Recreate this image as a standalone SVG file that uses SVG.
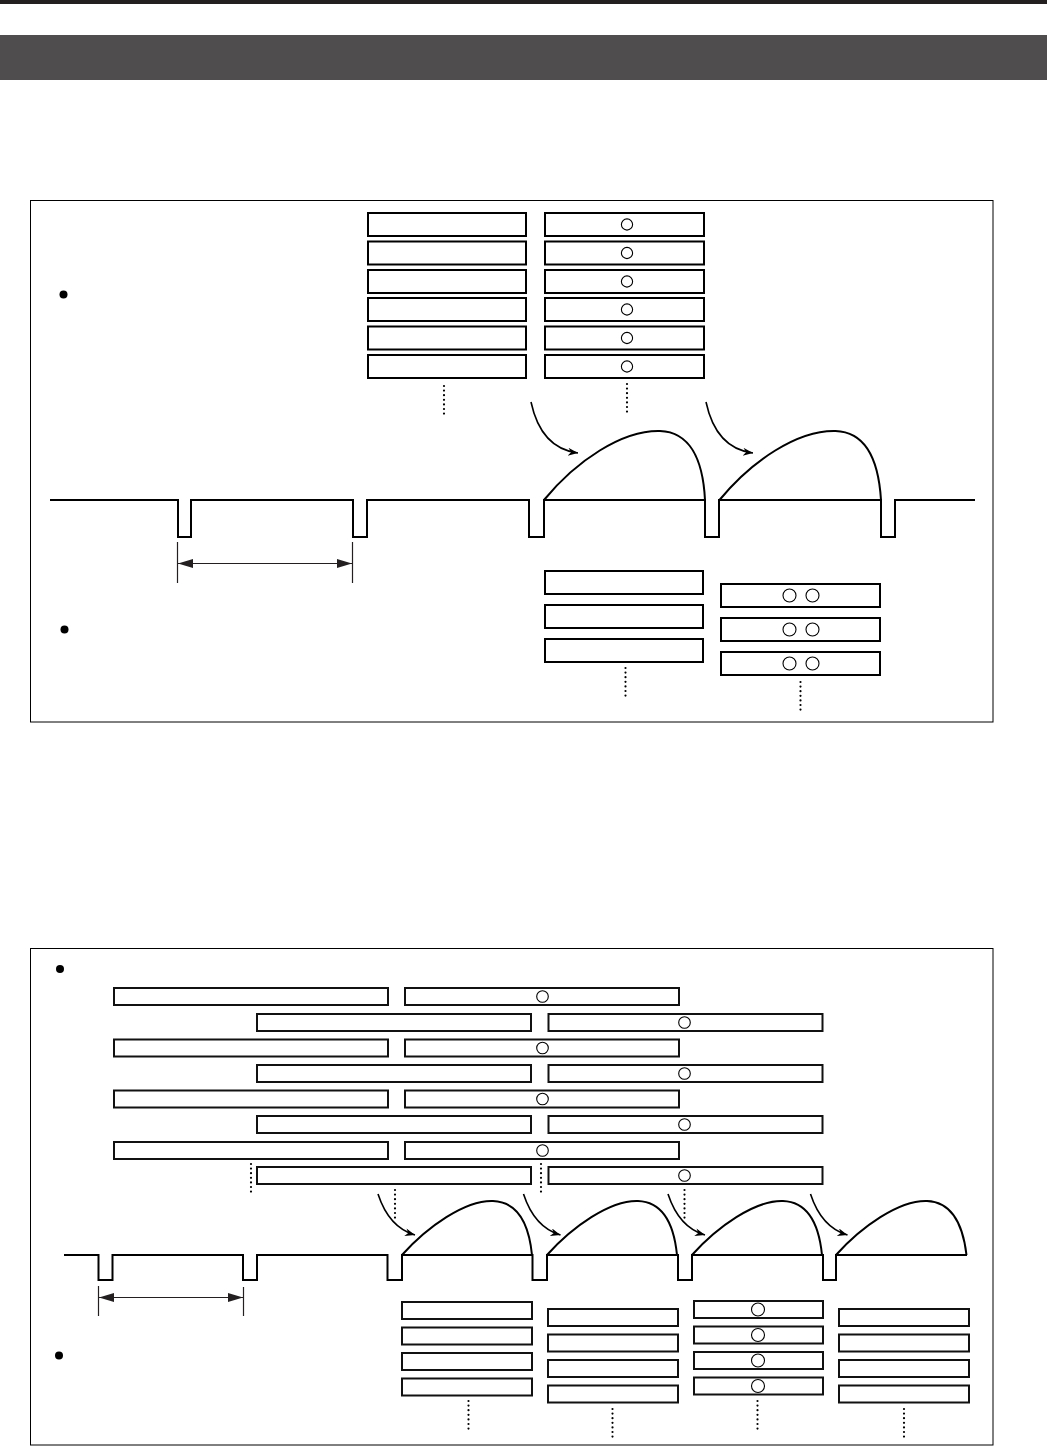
<svg xmlns="http://www.w3.org/2000/svg" width="1050" height="1447" viewBox="0 0 1050 1447">
<style>
.bx{fill:#fff;stroke:#000;stroke-width:2}
.bx2{fill:#fff;stroke:#111;stroke-width:2}
.fr{fill:none;stroke:#000;stroke-width:1}
.wv{fill:none;stroke:#000;stroke-width:2;stroke-linejoin:miter}
.ci{fill:#fff;stroke:#000;stroke-width:1.1}
.dt{fill:none;stroke:#000;stroke-width:2.2;stroke-dasharray:0 4.6;stroke-linecap:round}
.ar{fill:none;stroke:#000;stroke-width:1.6}
.dm{fill:none;stroke:#231f20;stroke-width:1.2}
.bu{fill:#000}
</style>
<defs>
<marker id="ah" markerWidth="12" markerHeight="10" refX="10" refY="4" orient="auto" markerUnits="userSpaceOnUse">
<path d="M0,0 L10,4 L0,8 L3,4 Z" fill="#000"/>
</marker>
<marker id="dh" markerWidth="16" markerHeight="10" refX="15" refY="4.5" orient="auto-start-reverse" markerUnits="userSpaceOnUse">
<path d="M0,0 L15,4.5 L0,9 Z" fill="#231f20"/>
</marker>
</defs>

<rect x="0" y="0" width="1047" height="4" fill="#231f20"/>
<rect x="0" y="35" width="1047" height="45" fill="#4f4d4e"/>

<g id="panel1">
<rect class="fr" x="30.5" y="200.5" width="962.5" height="521.5"/>
<circle class="bu" cx="63.5" cy="294.5" r="4"/>
<circle class="bu" cx="64.5" cy="629.5" r="4"/>
<g id="p1-left-col">
<rect class="bx" x="368" y="213" width="158" height="23"/>
<rect class="bx" x="368" y="241.5" width="158" height="23"/>
<rect class="bx" x="368" y="270" width="158" height="23"/>
<rect class="bx" x="368" y="298" width="158" height="23"/>
<rect class="bx" x="368" y="326.5" width="158" height="23"/>
<rect class="bx" x="368" y="355" width="158" height="23"/>
<line class="dt" x1="444" y1="386" x2="444" y2="414"/>
</g>
<g id="p1-right-col">
<rect class="bx" x="545" y="213" width="159" height="23"/>
<rect class="bx" x="545" y="241.5" width="159" height="23"/>
<rect class="bx" x="545" y="270" width="159" height="23"/>
<rect class="bx" x="545" y="298" width="159" height="23"/>
<rect class="bx" x="545" y="326.5" width="159" height="23"/>
<rect class="bx" x="545" y="355" width="159" height="23"/>
<circle class="ci" cx="627" cy="224.5" r="5.6"/>
<circle class="ci" cx="627" cy="253" r="5.6"/>
<circle class="ci" cx="627" cy="281.5" r="5.6"/>
<circle class="ci" cx="627" cy="309.5" r="5.6"/>
<circle class="ci" cx="627" cy="338" r="5.6"/>
<circle class="ci" cx="627" cy="366.5" r="5.6"/>
<line class="dt" x1="627" y1="384" x2="627" y2="412"/>
</g>
<g id="p1-low-col1">
<rect class="bx" x="545" y="571" width="158" height="23"/>
<rect class="bx" x="545" y="605" width="158" height="23"/>
<rect class="bx" x="545" y="639" width="158" height="23"/>
<line class="dt" x1="625.5" y1="668" x2="625.5" y2="697"/>
</g>
<g id="p1-low-col2">
<rect class="bx" x="721" y="584" width="159" height="23"/>
<rect class="bx" x="721" y="618" width="159" height="23"/>
<rect class="bx" x="721" y="652" width="159" height="23"/>
<circle class="ci" cx="789.5" cy="595.5" r="6.5"/>
<circle class="ci" cx="812.5" cy="595.5" r="6.5"/>
<circle class="ci" cx="789.5" cy="629.5" r="6.5"/>
<circle class="ci" cx="812.5" cy="629.5" r="6.5"/>
<circle class="ci" cx="789.5" cy="663.5" r="6.5"/>
<circle class="ci" cx="812.5" cy="663.5" r="6.5"/>
<line class="dt" x1="800.5" y1="682" x2="800.5" y2="710"/>
</g>
<g id="p1-wave">
<path class="wv" d="M50,500 H178 V537 H191 V500 H353 V537 H367 V500 H529 V537 H544 V500 H705 V537 H719 V500 H881 V537 H895 V500 H975"/>
<path class="wv" d="M544,500 C576,461 622,430 660,431 C690,432 703,460 705,500"/>
<path class="wv" d="M719.5,500 C751.5,461 797.5,430 835.5,431 C865.5,432 878.5,460 881,500"/>
</g>
<g id="p1-connectors">
<path class="ar" d="M531,402 Q541,448.5 578,453" marker-end="url(#ah)"/>
<path class="ar" d="M706,402 Q716,448.5 753,453" marker-end="url(#ah)"/>
<line class="dm" x1="177.5" y1="542" x2="177.5" y2="583"/>
<line class="dm" x1="352.5" y1="542" x2="352.5" y2="583"/>
<line class="dm" x1="178" y1="563.5" x2="352" y2="563.5" marker-start="url(#dh)" marker-end="url(#dh)"/>
</g>
</g>

<g id="panel2">
<rect class="fr" x="30.5" y="948.5" width="962.5" height="496.5"/>
<circle class="bu" cx="60" cy="969" r="4"/>
<circle class="bu" cx="59" cy="1355.5" r="4"/>
<g id="p2-rows">
<rect class="bx2" x="114" y="988" width="274" height="17"/>
<rect class="bx2" x="114" y="1039.5" width="274" height="17"/>
<rect class="bx2" x="114" y="1090.5" width="274" height="17"/>
<rect class="bx2" x="114" y="1142" width="274" height="17"/>
<rect class="bx2" x="405" y="988" width="274" height="17"/>
<rect class="bx2" x="405" y="1039.5" width="274" height="17"/>
<rect class="bx2" x="405" y="1090.5" width="274" height="17"/>
<rect class="bx2" x="405" y="1142" width="274" height="17"/>
<circle class="ci" cx="542.5" cy="996.5" r="5.8"/>
<circle class="ci" cx="542.5" cy="1048" r="5.8"/>
<circle class="ci" cx="542.5" cy="1099" r="5.8"/>
<circle class="ci" cx="542.5" cy="1150.5" r="5.8"/>
<rect class="bx2" x="257" y="1014" width="274" height="17"/>
<rect class="bx2" x="257" y="1065" width="274" height="17"/>
<rect class="bx2" x="257" y="1116" width="274" height="17"/>
<rect class="bx2" x="257" y="1167" width="274" height="17"/>
<rect class="bx2" x="548.5" y="1014" width="274" height="17"/>
<rect class="bx2" x="548.5" y="1065" width="274" height="17"/>
<rect class="bx2" x="548.5" y="1116" width="274" height="17"/>
<rect class="bx2" x="548.5" y="1167" width="274" height="17"/>
<circle class="ci" cx="684.5" cy="1022.5" r="5.8"/>
<circle class="ci" cx="684.5" cy="1073.5" r="5.8"/>
<circle class="ci" cx="684.5" cy="1124.5" r="5.8"/>
<circle class="ci" cx="684.5" cy="1175.5" r="5.8"/>
<line class="dt" x1="251" y1="1164" x2="251" y2="1193"/>
<line class="dt" x1="541" y1="1164" x2="541" y2="1193"/>
<line class="dt" x1="395" y1="1190" x2="395" y2="1219"/>
<line class="dt" x1="684.5" y1="1190" x2="684.5" y2="1219"/>
</g>
<g id="p2-wave">
<path class="wv" d="M64,1255 H98.5 V1280 H112.5 V1255 H243 V1280 H257 V1255 H387.5 V1280 H402 V1255 H532.5 V1280 H547 V1255 H678 V1280 H692 V1255 H823 V1280 H836 V1255 H967"/>
<path class="wv" d="M402,1255 C427,1227 465,1200 493,1201 C518,1202 529,1225 532,1255"/>
<path class="wv" d="M547,1255 C572,1227 610,1200 638,1201 C663,1202 674,1225 677,1255"/>
<path class="wv" d="M692,1255 C717,1227 755,1200 783,1201 C808,1202 819,1225 822,1255"/>
<path class="wv" d="M836,1255 C861,1227 899,1200 927,1201 C952,1202 963,1225 966.5,1255"/>
</g>
<g id="p2-low-cols">
<rect class="bx2" x="402" y="1302" width="130" height="17"/>
<rect class="bx2" x="402" y="1327.5" width="130" height="17"/>
<rect class="bx2" x="402" y="1353" width="130" height="17"/>
<rect class="bx2" x="402" y="1378.5" width="130" height="17"/>
<line class="dt" x1="468.5" y1="1401" x2="468.5" y2="1430"/>
<rect class="bx2" x="548" y="1309" width="130" height="17"/>
<rect class="bx2" x="548" y="1334.5" width="130" height="17"/>
<rect class="bx2" x="548" y="1360" width="130" height="17"/>
<rect class="bx2" x="548" y="1385.5" width="130" height="17"/>
<line class="dt" x1="612.5" y1="1409" x2="612.5" y2="1438"/>
<rect class="bx2" x="694" y="1301" width="129" height="17"/>
<rect class="bx2" x="694" y="1326.5" width="129" height="17"/>
<rect class="bx2" x="694" y="1352" width="129" height="17"/>
<rect class="bx2" x="694" y="1377.5" width="129" height="17"/>
<circle class="ci" cx="758" cy="1309.5" r="6.5"/>
<circle class="ci" cx="758" cy="1335" r="6.5"/>
<circle class="ci" cx="758" cy="1360.5" r="6.5"/>
<circle class="ci" cx="758" cy="1386" r="6.5"/>
<line class="dt" x1="757.5" y1="1401" x2="757.5" y2="1430"/>
<rect class="bx2" x="839" y="1309" width="130" height="17"/>
<rect class="bx2" x="839" y="1334.5" width="130" height="17"/>
<rect class="bx2" x="839" y="1360" width="130" height="17"/>
<rect class="bx2" x="839" y="1385.5" width="130" height="17"/>
<line class="dt" x1="904" y1="1409" x2="904" y2="1438"/>
</g>
<g id="p2-connectors">
<path class="ar" d="M378,1194 Q389,1227.5 415,1235" marker-end="url(#ah)"/>
<path class="ar" d="M523.5,1194 Q534.5,1227.5 560.5,1235" marker-end="url(#ah)"/>
<path class="ar" d="M668,1194 Q679,1227.5 705,1235" marker-end="url(#ah)"/>
<path class="ar" d="M810.5,1194 Q821.5,1227.5 847.5,1235" marker-end="url(#ah)"/>
<line class="dm" x1="98.5" y1="1286" x2="98.5" y2="1316"/>
<line class="dm" x1="243.5" y1="1287" x2="243.5" y2="1316"/>
<line class="dm" x1="99" y1="1297.5" x2="243" y2="1297.5" marker-start="url(#dh)" marker-end="url(#dh)"/>
</g>
</g>
</svg>
